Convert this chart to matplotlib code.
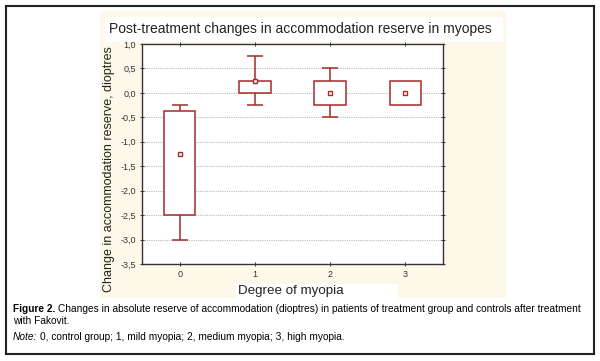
import matplotlib
matplotlib.use("Agg")
import matplotlib.pyplot as plt
from matplotlib.patches import Rectangle
from matplotlib.ticker import FuncFormatter, MultipleLocator
from matplotlib.font_manager import FontProperties

# ---- data ----
groups = [0, 1, 2, 3]
medians = [-1.25, 0.25, 0.0, 0.0]
q1 = [-2.5, 0.0, -0.25, -0.25]
q3 = [-0.375, 0.25, 0.25, 0.25]
mins = [-3.0, -0.25, -0.5, -0.25]
maxs = [-0.25, 0.75, 0.5, 0.25]
title = "Post-treatment changes in accommodation reserve in myopes"
xlabel = "Degree of myopia"
ylabel = "Change in accommodation reserve, dioptres"
legend_labels = ["Median", "25%-75%", "Min-Max"]
cap_bold = "Figure 2."
cap_line1 = "Changes in absolute reserve of accommodation (dioptres) in patients of treatment group and controls after treatment"
cap_line2 = "with Fakovit."
note_head = "Note:"
note_text = "0, control group; 1, mild myopia; 2, medium myopia; 3, high myopia."

W, H = 600, 361
RED = "#A52A2A"
CREAM = "#FDF8EA"

fig = plt.figure(figsize=(6, 3.61), dpi=100)
fig.patch.set_facecolor("white")

def fr(x0, y0, x1, y1):
    return [x0 / W, 1 - y1 / H, (x1 - x0) / W, (y1 - y0) / H]

def add_rect(x0, y0, x1, y1, **kw):
    l, b, w, h = fr(x0, y0, x1, y1)
    fig.add_artist(Rectangle((l, b), w, h, transform=fig.transFigure, **kw))

# outer frame
add_rect(6, 6, 594, 354, facecolor="white", edgecolor="#222222", linewidth=1.5, zorder=0)
# cream panel
add_rect(100, 11, 506, 298, facecolor=CREAM, edgecolor="none", zorder=0.5)
# white title box
add_rect(105, 17, 503, 42, facecolor="white", edgecolor="none", zorder=0.6)
# white xlabel box
add_rect(236, 284, 398, 298, facecolor="white", edgecolor="none", zorder=0.6)

fig.text(300 / W, 1 - 29 / H, title, ha="center", va="center",
         fontsize=10.0, family="Liberation Sans", color="#222222")

ax = fig.add_axes(fr(142, 44, 443, 264))
ax.set_facecolor("white")
ax.set_zorder(2)

bw = 0.42
cw = 0.21
for g, md, a, b, lo, hi in zip(groups, medians, q1, q3, mins, maxs):
    ax.bar(g, b - a, bottom=a, width=bw, facecolor="white", edgecolor=RED,
           linewidth=1.1, zorder=3)
    if hi > b:
        ax.vlines(g, b, hi, color=RED, linewidth=1.1, zorder=3)
        ax.hlines(hi, g - cw / 2, g + cw / 2, color=RED, linewidth=1.1, zorder=3)
    if lo < a:
        ax.vlines(g, lo, a, color=RED, linewidth=1.1, zorder=3)
        ax.hlines(lo, g - cw / 2, g + cw / 2, color=RED, linewidth=1.1, zorder=3)
    ax.plot(g, md, marker="s", markersize=3.5, markerfacecolor="white",
            markeredgecolor=RED, markeredgewidth=1.0, linestyle="none", zorder=4)

ax.set_xlim(-0.5, 3.5)
ax.set_ylim(-3.5, 1.0)
ax.set_xticks(groups)
ax.yaxis.set_major_locator(MultipleLocator(0.5))
ax.yaxis.set_major_formatter(FuncFormatter(lambda v, p: f"{v:.1f}".replace(".", ",")))
for yv in [0.5, 0.0, -0.5, -1.0, -1.5, -2.0, -2.5, -3.0]:
    ax.axhline(yv, color="#BBBBBB", linestyle=(0, (1, 1)), linewidth=0.8, zorder=1)
ax.tick_params(axis="both", labelsize=6.5, colors="#333333", length=2.5,
               direction="inout", top=True, right=True, width=0.7)
ax.tick_params(axis="y", pad=3)
ax.tick_params(axis="x", pad=3)
for s in ax.spines.values():
    s.set_color("#333333")
    s.set_linewidth(1.0)
for lab in ax.get_xticklabels() + ax.get_yticklabels():
    lab.set_family("Liberation Sans")

fig.text(109 / W, 1 - 169 / H, ylabel, rotation=90, ha="center", va="center",
         fontsize=9.0, family="Liberation Sans", color="#222222")
fig.text(291 / W, 1 - 291 / H, xlabel, ha="center", va="center",
         fontsize=9.6, family="Liberation Sans", color="#222222")

# legend (manual, in pixel-based inset axes)
lax = fig.add_axes(fr(445, 250, 505, 286))
lax.set_xlim(445, 505)
lax.set_ylim(286, 250)
lax.axis("off")
lax.plot(453, 257, marker="s", markersize=3, markerfacecolor="white",
         markeredgecolor=RED, markeredgewidth=1.0, linestyle="none")
lax.add_patch(Rectangle((449.5, 264), 6, 8, facecolor="white", edgecolor=RED, linewidth=1.0))
lax.vlines(452.5, 275, 283, color=RED, linewidth=1.0)
lax.hlines([275, 283], 449.5, 455.5, color=RED, linewidth=1.0)
for yy, t in zip([257, 268, 279], legend_labels):
    lax.text(459, yy, t, fontsize=5.5, fontweight="bold", va="center", ha="left",
             family="Liberation Sans", color="#222222")

# ---- caption (Liberation Sans, size fitted to the reference line width) ----
def cprops(weight="normal", style="normal", size=8.0):
    return FontProperties(family="Liberation Sans", weight=weight, style=style, size=size)

renderer = fig.canvas.get_renderer()

def width_px(s, fp):
    t = fig.text(0, 0, s, fontproperties=fp)
    w = t.get_window_extent(renderer).width
    t.remove()
    return w

base = 8.0
sp = width_px("a a", cprops(size=base)) - width_px("aa", cprops(size=base))
total = width_px(cap_bold, cprops("bold", size=base)) + sp + width_px(cap_line1, cprops(size=base))
fs = base * 574.0 / total

def run_line(x_px, y_px, runs):
    x = x_px
    spc = width_px("a a", cprops(size=fs)) - width_px("aa", cprops(size=fs))
    for s, wgt, sty in runs:
        fp = cprops(wgt, sty, fs)
        fig.text(x / W, 1 - y_px / H, s, fontproperties=fp, va="center", ha="left",
                 color="#000000")
        x += width_px(s, fp) + spc

run_line(13, 309, [(cap_bold, "bold", "normal"), (cap_line1, "normal", "normal")])
run_line(13, 321, [(cap_line2, "normal", "normal")])
run_line(13, 337, [(note_head, "normal", "italic"), (note_text, "normal", "normal")])

fig.savefig("out.png", dpi=100)
